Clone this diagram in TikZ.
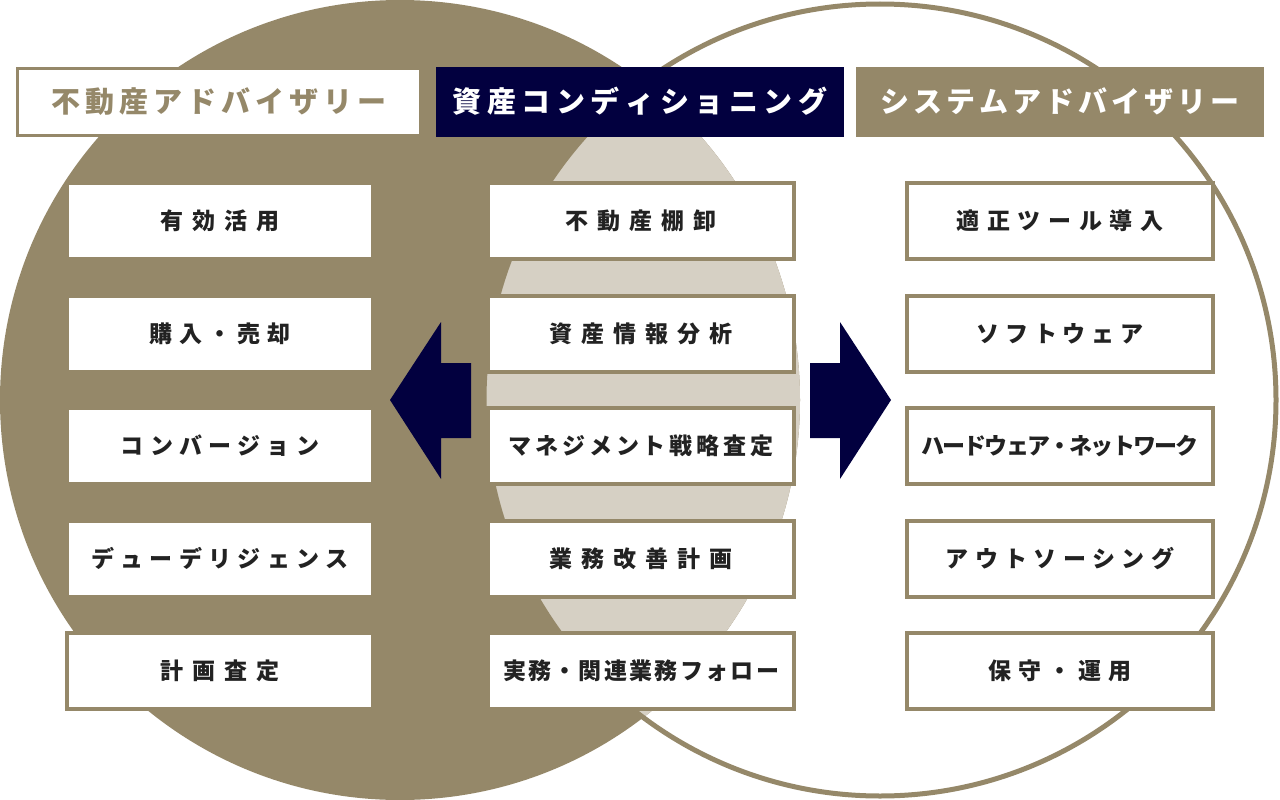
\documentclass[tikz,border=0pt]{standalone}
\usepackage{fontspec}
\newfontfamily\jp{Noto Sans CJK JP}
\definecolor{brn}{HTML}{958869}
\definecolor{lgt}{HTML}{D6D0C4}
\definecolor{nvy}{HTML}{02003F}
\definecolor{ink}{HTML}{222222}
\makeatletter
\newcommand\spc[2]{\@tfor\spc@t:=#2\do{\spc@t\hskip#1\relax}\unskip}
\makeatother
\tikzset{
  itembox/.style={draw=brn, line width=4pt, fill=white, minimum width=306pt,
    minimum height=76pt, inner sep=0pt, text=ink,
    font=\jp\bfseries\fontsize{23}{23}\selectfont, text height=17pt, text depth=0pt},
  banner/.style={minimum width=408pt, minimum height=70pt, inner sep=0pt,
    font=\jp\bfseries\fontsize{29}{29}\selectfont, text height=21.5pt, text depth=0pt},
  arrowshape/.style={fill=nvy}
}
\begin{document}
\begin{tikzpicture}[x=1pt,y=-1pt]
\useasboundingbox (0,0) rectangle (1280,800);
% circles
\fill[brn] (400,400) circle[radius=400];
\begin{scope}
  \clip (400,400) circle[radius=400];
  \fill[lgt] (880,400) circle[radius=396];
\end{scope}
\draw[brn, line width=5pt] (880,400) circle[radius=396];
% banners
\node[banner, draw=brn, line width=3pt, fill=white, minimum width=403pt, minimum height=67pt, text=brn] (b1) at (219,102) {\spc{5pt}{不動産アドバイザリー}};
\node[banner, fill=nvy, text=white] (b2) at (640,102) {\spc{5.6pt}{資産コンディショニング}};
\node[banner, fill=brn, text=white] (b3) at (1060,102) {\spc{4pt}{システムアドバイザリー}};
% left column
\node[itembox] (l1) at (220,221) {\spc{9pt}{有効活用}};
\node[itembox] (l2) at (220,333.5) {\spc{6.3pt}{購入・売却}};
\node[itembox] (l3) at (220,446) {\spc{6.2pt}{コンバージョン}};
\node[itembox] (l4) at (220,558.5) {\spc{6.3pt}{デューデリジェンス}};
\node[itembox] (l5) at (220,671) {\spc{9pt}{計画査定}};
% center column
\node[itembox] (c1) at (641,221) {\spc{9pt}{不動産棚卸}};
\node[itembox] (c2) at (641,333.5) {\spc{9pt}{資産情報分析}};
\node[itembox] (c3) at (641,446) {\spc{3.9pt}{マネジメント戦略査定}};
\node[itembox] (c4) at (641,558.5) {\spc{9pt}{業務改善計画}};
\node[itembox] (c5) at (641,671) {\spc{2.3pt}{実務・関連業務フォロー}};
% right column
\node[itembox] (r1) at (1060,221) {\spc{7.7pt}{適正ツール導入}};
\node[itembox] (r2) at (1060,333.5) {\spc{5.9pt}{ソフトウェア}};
\node[itembox] (r3) at (1060,446) {\spc{-1.8pt}{ハードウェア・ネットワーク}};
\node[itembox] (r4) at (1060,558.5) {\spc{6.3pt}{アウトソーシング}};
\node[itembox] (r5) at (1060,671) {\spc{6.8pt}{保守・運用}};
% arrows
\fill[arrowshape] (390,400) -- (441,322) -- (441,363) -- (471,363) -- (471,438) -- (441,438) -- (441,479) -- cycle;
\fill[arrowshape] (891,400) -- (840,322) -- (840,363) -- (810,363) -- (810,438) -- (840,438) -- (840,479) -- cycle;
\end{tikzpicture}
\end{document}
